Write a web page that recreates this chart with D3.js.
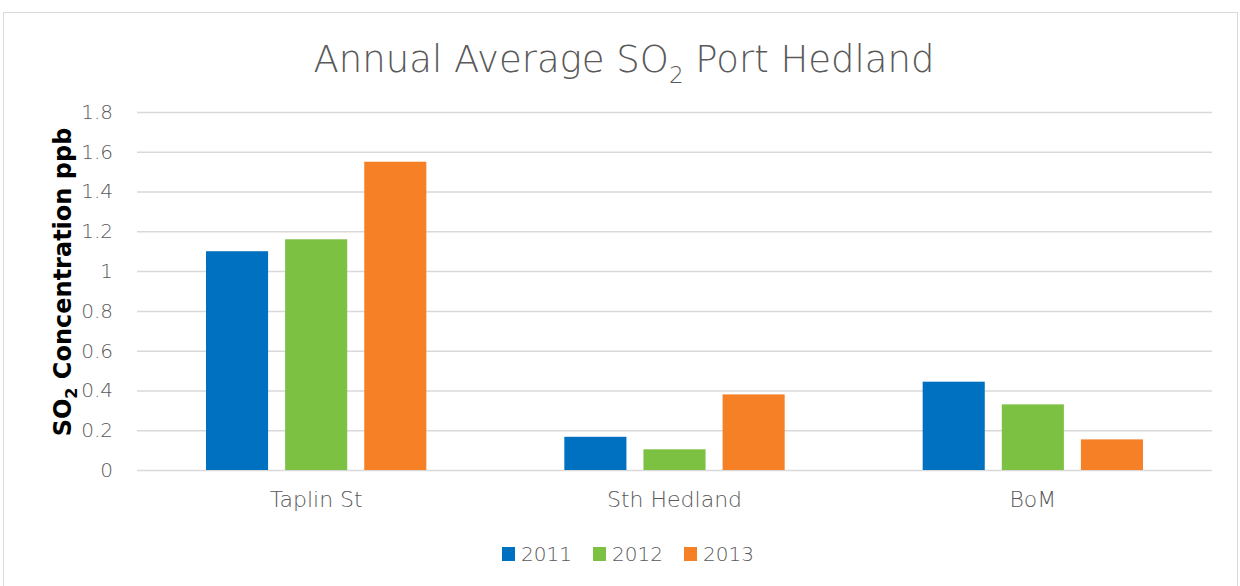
<!DOCTYPE html>
<html>
<head>
<meta charset="utf-8">
<script src="https://cdn.jsdelivr.net/npm/d3@7"></script>
<style>
  body { margin: 0; background: #fff; }
  text { font-family: "DejaVu Sans", sans-serif; }
</style>
</head>
<body>
<div id="chart"></div>
<script>
// data
var sites = ["Taplin St", "Sth Hedland", "BoM"];
var years = ["2011", "2012", "2013"];
var v2011 = [1.10, 0.167, 0.444];
var v2012 = [1.16, 0.104, 0.33];
var v2013 = [1.55, 0.38, 0.154];
var yTicks = [0, 0.2, 0.4, 0.6, 0.8, 1, 1.2, 1.4, 1.6, 1.8];
var colors = ["#0070c0", "#7cc142", "#f58026"];

var W = 1240, H = 586;
var margin = {top: 112, right: 28, bottom: 116, left: 137},
    width = W - margin.left - margin.right,
    height = H - margin.top - margin.bottom;

var svg = d3.select("#chart").append("svg")
    .attr("width", W)
    .attr("height", H);

// chart border
svg.append("rect")
    .attr("x", 3.5).attr("y", 12.5)
    .attr("width", 1234).attr("height", 600)
    .attr("fill", "none")
    .attr("stroke", "#d9d9d9");

var g = svg.append("g")
    .attr("transform", "translate(" + margin.left + "," + margin.top + ")");

var x = d3.scaleBand().domain(sites).range([0, width]).paddingInner(0).paddingOuter(0);
var x1 = d3.scaleBand().domain(years).range([69, x.bandwidth() - 69]).paddingInner(17 / 79);
var y = d3.scaleLinear().domain([0, 1.8]).range([height, 0]);

// gridlines
g.append("g")
    .call(d3.axisLeft(y).tickValues(yTicks).tickSize(-width).tickFormat(function(d) { return d; }))
    .call(function(a) {
      a.select(".domain").remove();
      a.selectAll(".tick line").attr("stroke", "#d9d9d9").attr("stroke-width", 1.5);
      a.selectAll(".tick text")
        .attr("x", -24)
        .attr("fill", "#595959")
        .style("font-size", "20px")
        .style("font-weight", "300");
    });

var rows = [v2011, v2012, v2013];
sites.forEach(function(s, i) {
  var grp = g.append("g").attr("transform", "translate(" + x(s) + ",0)");
  years.forEach(function(yr, j) {
    grp.append("rect")
        .attr("x", x1(yr))
        .attr("y", y(rows[j][i]))
        .attr("width", x1.bandwidth())
        .attr("height", height - y(rows[j][i]))
        .attr("fill", colors[j]);
  });
});

// x axis labels
g.append("g")
    .attr("transform", "translate(0," + height + ")")
    .call(d3.axisBottom(x).tickSize(0))
    .call(function(a) {
      a.select(".domain").remove();
      a.selectAll(".tick text")
        .attr("y", 21)
        .attr("fill", "#595959")
        .style("font-size", "22px")
        .style("font-weight", "300");
    });

// title
var title = svg.append("text")
    .attr("x", 624).attr("y", 72)
    .attr("text-anchor", "middle")
    .attr("fill", "#595959")
    .style("font-size", "37px")
    .style("font-weight", "300");
title.append("tspan").text("Annual Average SO");
title.append("tspan").attr("dy", 11).style("font-size", "23px").text("2");
title.append("tspan").attr("dy", -11).text(" Port Hedland");

// y axis title
var yl = svg.append("text")
    .attr("transform", "translate(71,282) rotate(-90)")
    .attr("text-anchor", "middle")
    .attr("fill", "#000")
    .style("font-size", "24px")
    .style("font-weight", "bold");
yl.append("tspan").text("SO");
yl.append("tspan").attr("dy", 6).style("font-size", "16px").text("2");
yl.append("tspan").attr("dy", -6).text(" Concentration ppb");

// legend
var legX = [502, 593, 684];
var leg = svg.append("g");
years.forEach(function(yr, j) {
  leg.append("rect")
      .attr("x", legX[j]).attr("y", 547)
      .attr("width", 13).attr("height", 14)
      .attr("fill", colors[j]);
  leg.append("text")
      .attr("x", legX[j] + 19).attr("y", 561)
      .attr("fill", "#595959")
      .style("font-size", "20px")
      .style("font-weight", "300")
      .text(yr);
});
</script>
</body>
</html>
